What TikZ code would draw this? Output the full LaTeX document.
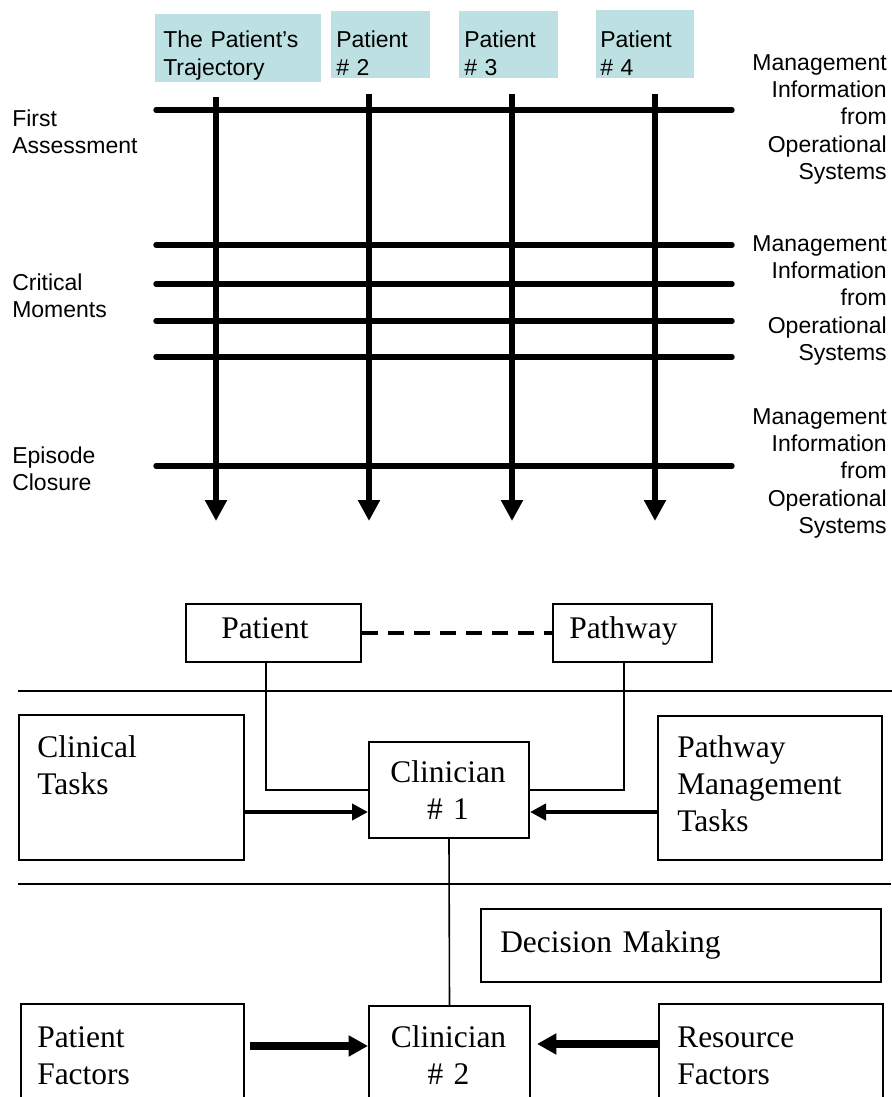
\documentclass[tikz,border=0pt]{standalone}
\usepackage{fontspec}
\setmainfont{Liberation Serif}
\newfontfamily\arialf{Liberation Sans}
\usetikzlibrary{arrows.meta}
\definecolor{paleteal}{RGB}{189,225,227}
\begin{document}
\begin{tikzpicture}[x=0.75pt,y=-0.75pt,
  tl/.style={line width=4.1pt, line cap=round},
  va/.style={line width=4.1pt, -{Triangle[length=15.75pt,width=15.75pt]}},
  cbox/.style={fill=paleteal, draw=none, inner sep=0pt, anchor=north west},
  stxt/.style={font=\arialf\fontsize{17.25}{21}\selectfont, inner sep=0pt, text width=112pt, align=left, anchor=base west},
  ltxt/.style={font=\arialf\fontsize{17.25}{20.6}\selectfont, inner sep=0pt, text width=110pt, align=left, anchor=base west},
  rtxt/.style={font=\arialf\fontsize{17.25}{20.6}\selectfont, inner sep=0pt, text width=110pt, align=right, anchor=base east},
  wbox/.style={draw, line width=1.5pt, inner sep=0pt, anchor=north west},
  btxt/.style={font=\fontsize{23.6}{28.1}\selectfont, inner sep=0pt, text width=170pt, align=left, anchor=base west},
  ctxt/.style={font=\fontsize{23.6}{28.1}\selectfont, inner sep=0pt, text width=110pt, align=center, anchor=base},
  thinl/.style={line width=1.2pt},
  arr1/.style={line width=3pt, -{Triangle[length=12pt,width=12pt]}},
  arr2/.style={line width=6pt, -{Triangle[length=14.5pt,width=15pt]}},
  dashl/.style={line width=3.6pt, dash pattern=on 12pt off 7.5pt}
]
\useasboundingbox (0,0) rectangle (892,1097);
% ---------- top part ----------
\node[cbox, minimum width=124.5pt, minimum height=51pt] (pb1) at (155,14) {};
\node[cbox, minimum width=74.25pt, minimum height=50.25pt] (pb2) at (331,11) {};
\node[cbox, minimum width=74.25pt, minimum height=50.25pt] (pb3) at (459,11) {};
\node[cbox, minimum width=73.5pt, minimum height=51pt] (pb4) at (596,10) {};
\node[stxt] (pt1) at (163,47) {The Patient’s\\Trajectory};
\node[stxt] (pt2) at (336,47) {Patient\\\# 2};
\node[stxt] (pt3) at (464,47) {Patient\\\# 3};
\node[stxt] (pt4) at (600,47) {Patient\\\# 4};

\foreach \y in {110,245,284,321,357,466} \draw[tl] (156,\y) -- (732,\y);
\foreach \x/\s in {216/97,369/94,512/94,655/94} \draw[va] (\x,\s) -- (\x,521);

\node[ltxt] (l1) at (12,126) {First\\Assessment};
\node[ltxt] (l2) at (12,290) {Critical\\Moments};
\node[ltxt] (l3) at (12,463) {Episode\\Closure};

\node[rtxt] (r1) at (887,70) {Management\\Information\\from\\Operational\\Systems};
\node[rtxt] (r2) at (887,251) {Management\\Information\\from\\Operational\\Systems};
\node[rtxt] (r3) at (887,424) {Management\\Information\\from\\Operational\\Systems};

% ---------- bottom part ----------
\node[wbox, minimum width=131.25pt, minimum height=43.5pt] (pat) at (185,603) {};
\node[wbox, minimum width=119.25pt, minimum height=43.5pt] (pw) at (552,603) {};
\node[btxt] (patT) at (221,638) {Patient};
\node[btxt] (pwT) at (569,638) {Pathway};
\draw[dashl] (pat.east) -- (pw.west);

\coordinate (s1a) at (18,691); \coordinate (s1b) at (892,691);
\coordinate (s2a) at (18,884); \coordinate (s2b) at (891,884);
\draw[thinl] (s1a) -- (s1b);
\draw[thinl] (s2a) -- (s2b);

\node[wbox, minimum width=168.75pt, minimum height=108.75pt] (clin) at (18,714) {};
\node[wbox, minimum width=168pt, minimum height=108pt] (pmt) at (657,715) {};
\node[wbox, minimum width=120pt, minimum height=72pt] (c1) at (368,741) {};
\node[btxt] (clinT) at (37,757) {Clinical\\Tasks};
\node[btxt] (pmtT) at (677,757) {Pathway\\Management\\Tasks};
\node[ctxt] (c1T) at (448,782) {Clinician\\\# 1};

\draw[thinl] ([xshift=-5.6pt]pat.south) |- (c1.west);
\draw[thinl] ([xshift=-6.4pt]pw.south) |- (c1.east);
\coordinate (ar1) at ([yshift=-16.5pt]c1.west);
\coordinate (ar2) at ([yshift=-16.5pt]c1.east);
\draw[arr1] (ar1 -| clin.east) -- (ar1);
\draw[arr1] (ar2 -| pmt.west) -- (ar2);

\node[wbox, minimum width=300pt, minimum height=54.75pt] (dm) at (480,908) {};
\node[btxt, text width=290pt] (dmT) at (500,952) {Decision Making};

\node[wbox, minimum width=167.25pt, minimum height=95.25pt] (pf) at (20,1003) {};
\node[wbox, minimum width=120.75pt, minimum height=93.75pt] (c2) at (368,1005) {};
\node[wbox, minimum width=168pt, minimum height=95.25pt] (rf) at (658,1003) {};
\node[btxt] (pfT) at (37,1047) {Patient\\Factors};
\node[ctxt] (c2T) at (448.5,1047) {Clinician\\\# 2};
\node[btxt] (rfT) at (677,1047) {Resource\\Factors};

\draw[thinl] (c1.south) -- (c2.north);
\coordinate (ar3) at ([yshift=16.9pt]c2.west);
\coordinate (ar4) at ([yshift=18.4pt]c2.east);
\draw[arr2, shorten <=3.75pt] (ar3 -| pf.east) -- (ar3);
\draw[arr2, shorten >=4.5pt] (ar4 -| rf.west) -- (ar4);
\end{tikzpicture}
\end{document}
